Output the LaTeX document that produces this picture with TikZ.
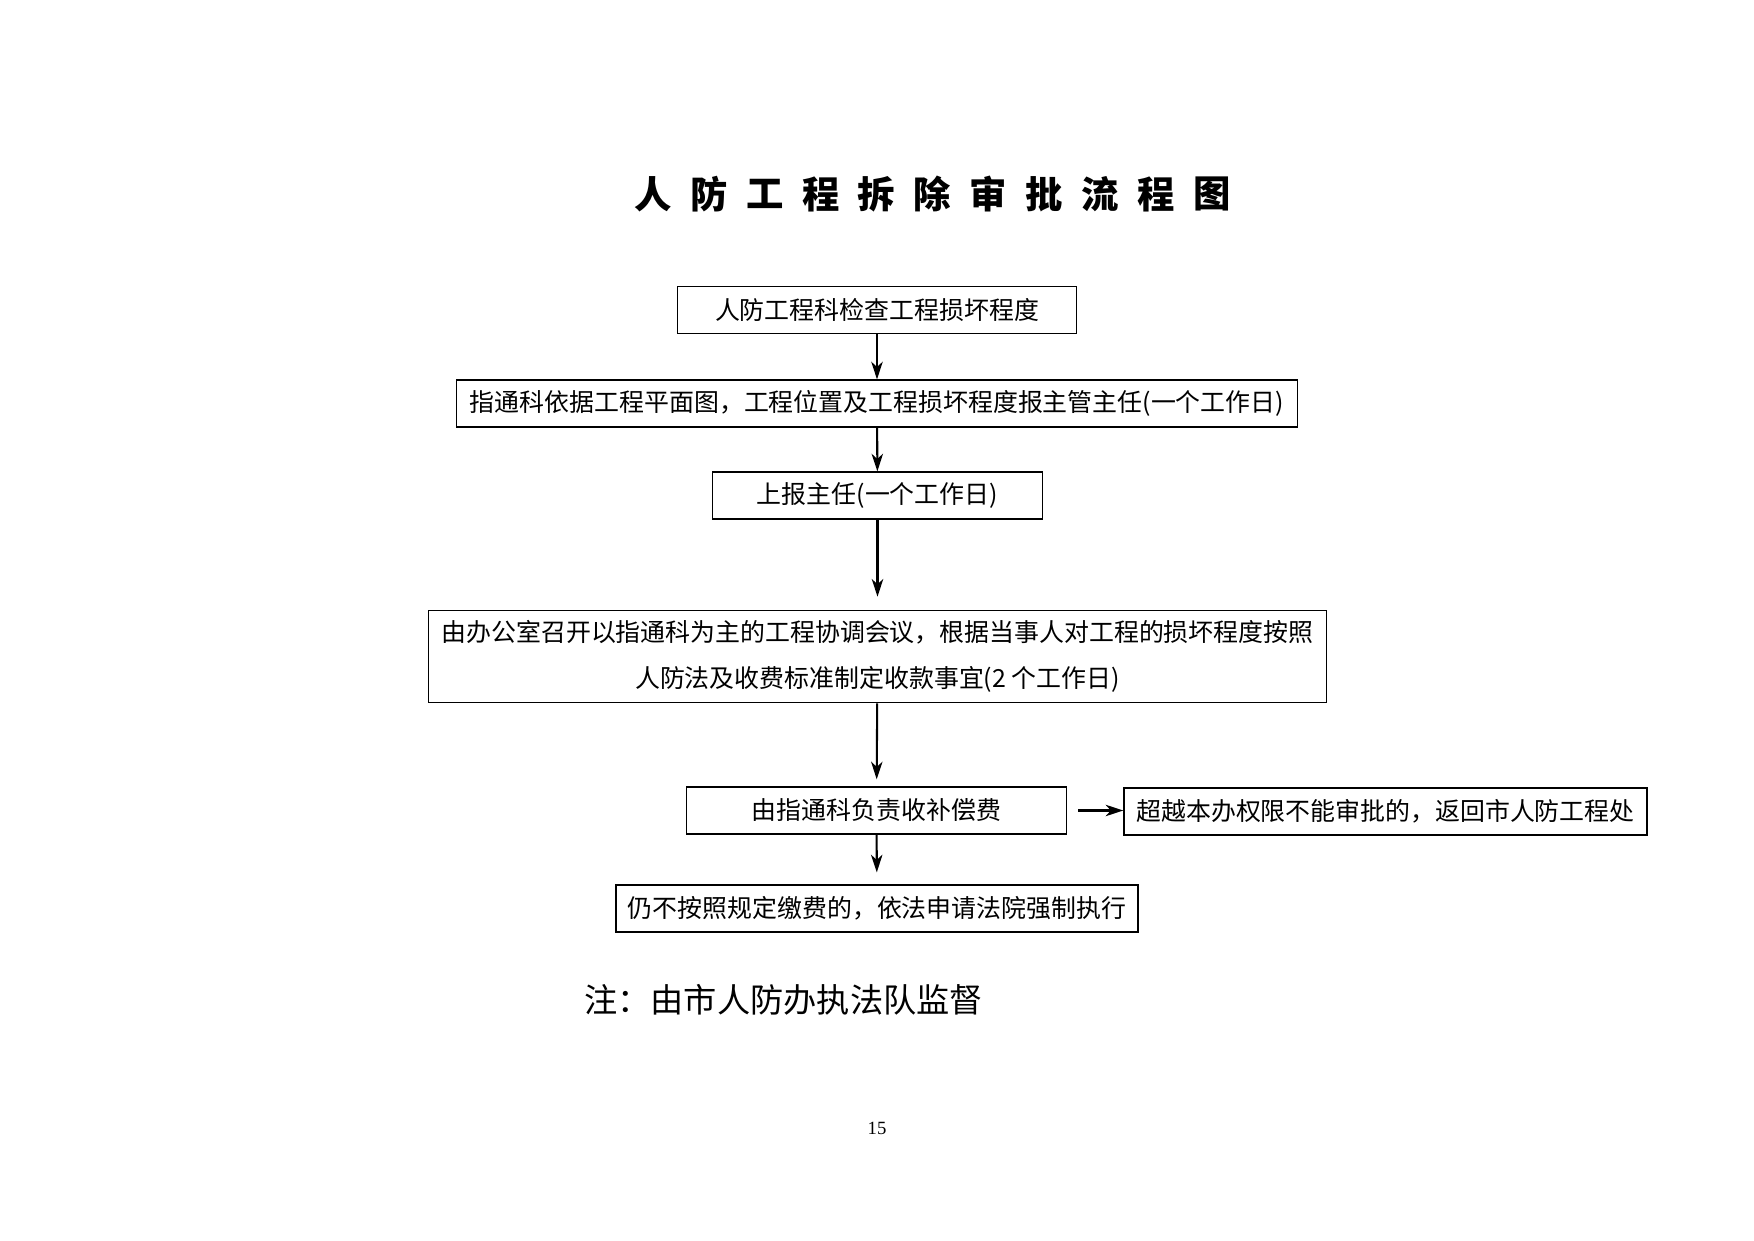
\documentclass[tikz,border=0pt]{standalone}
\usepackage{fontspec}
\usetikzlibrary{arrows.meta}
\newfontfamily\cjk{Noto Sans CJK SC}
\newfontfamily\numfont{Liberation Serif}

\tikzset{
  stepbox/.style = {draw, line width=0.6pt, inner sep=0pt, minimum height=22.6pt,
                    font=\cjk\fontsize{12}{22}\selectfont, align=center},
  flow/.style    = {draw, line width=1pt, -{Stealth[length=8.5pt,width=5.5pt,inset=2.5pt]}}
}

\begin{document}
\begin{tikzpicture}[x=0.1693mm, y=-0.1693mm]
\useasboundingbox (0,0) rectangle (1754,1241);
% title, one character at a time
\foreach \ch [count=\i from 0] in {人,防,工,程,拆,除,审,批,流,程,图}
  \node[font=\cjk\bfseries\fontsize{18}{18}\selectfont] (title\i) at (653+55.9*\i,194) {\ch};

\node[stepbox, minimum width=192pt]   (check)   at (877,310)     {人防工程科检查工程损坏程度};
\node[stepbox, minimum width=405pt]   (report)  at (877,403.5)   {指通科依据工程平面图，工程位置及工程损坏程度报主管主任(一个工作日)};
\node[stepbox, minimum width=159pt]   (chief)   at (877.5,495.5) {上报主任(一个工作日)};
\node[stepbox, minimum width=432.5pt, minimum height=44.6pt]
                                      (meeting) at (877.5,656.5) {由办公室召开以指通科为主的工程协调会议，根据当事人对工程的损坏程度按照\\人防法及收费标准制定收款事宜(2 个工作日)};
\node[stepbox, minimum width=183pt]   (fee)     at (876.5,810.5) {由指通科负责收补偿费};
\node[stepbox, minimum width=252pt]   (city)    at (1385.5,811.5) {超越本办权限不能审批的，返回市人防工程处};
\node[stepbox, minimum width=251.5pt] (court)   at (877,908.5)   {仍不按照规定缴费的，依法申请法院强制执行};

\node[font=\cjk\fontsize{16}{16}\selectfont, anchor=west] (note) at (577,1000) {注：由市人防办执法队监督};
\node[font=\numfont\fontsize{9}{9}\selectfont] (page) at (877,1128) {15};

\draw[flow] (check) -- (report);
\draw[flow] (report) -- (chief);
\draw[flow, shorten >=6.2pt] (chief) -- (meeting);
\draw[flow, shorten >=3.4pt] (meeting) -- (fee);
\draw[flow, shorten >=5.8pt] (fee) -- (court);
\draw[flow, shorten <=5.3pt] (fee.east) -- (fee.east -| city.west);
\end{tikzpicture}
\end{document}
